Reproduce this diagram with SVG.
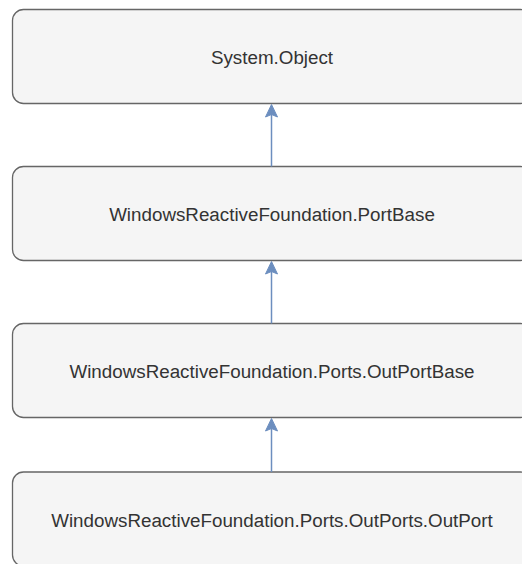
<svg xmlns="http://www.w3.org/2000/svg" width="522" height="564" viewBox="0 0 522 564">
<style>
.node rect{fill:#f5f5f5;stroke:#666666;stroke-width:1.3}
.node text{font-family:"Liberation Sans",Arial,sans-serif;font-size:18.8px;fill:#333333;text-anchor:middle}
.edge line{stroke:#6c8ebf;stroke-width:1.5}
.edge path{fill:#6c8ebf;stroke:#6c8ebf;stroke-width:1}
</style>
<rect width="522" height="564" fill="#ffffff"/>
<g id="n1" class="node"><rect x="12.5" y="9.5" width="519" height="94" rx="11"/><text x="272" y="63.5">System.Object</text></g>
<g id="n2" class="node"><rect x="12.5" y="166.5" width="519" height="94" rx="11"/><text x="272" y="220.5">WindowsReactiveFoundation.PortBase</text></g>
<g id="n3" class="node"><rect x="12.5" y="323.5" width="519" height="94" rx="11"/><text x="272" y="377.5">WindowsReactiveFoundation.Ports.OutPortBase</text></g>
<g id="n4" class="node"><rect x="12.5" y="472" width="519" height="94" rx="11"/><text x="272" y="526.5">WindowsReactiveFoundation.Ports.OutPorts.OutPort</text></g>
<g id="edges" class="edge">
<line x1="271.5" y1="166.5" x2="271.5" y2="114"/><path d="M271.5 104.5 L277.5 117 L271.5 114.5 L265.5 117 Z"/>
<line x1="271.5" y1="323.5" x2="271.5" y2="271"/><path d="M271.5 261.5 L277.5 274 L271.5 271.5 L265.5 274 Z"/>
<line x1="271.5" y1="472" x2="271.5" y2="428"/><path d="M271.5 418.5 L277.5 431 L271.5 428.5 L265.5 431 Z"/>
</g>
</svg>
